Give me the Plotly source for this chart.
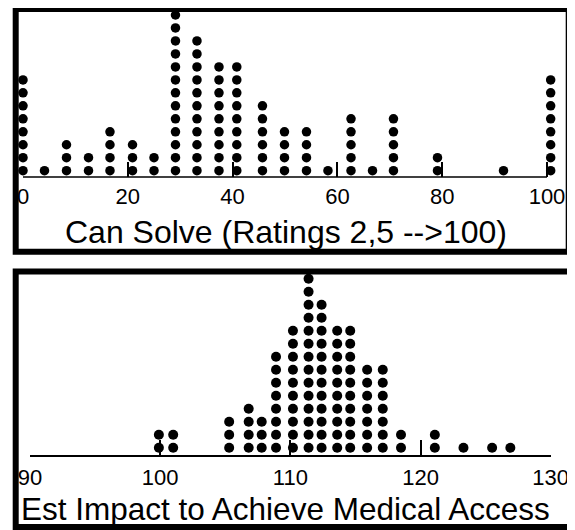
import plotly.graph_objects as go

# ---- data ----
# Top panel: "Can Solve" ratings (dot plot: value -> number of stacked dots)
solve_x = [0, 4.1, 8.3, 12.5, 16.6, 20.9, 25, 29.1, 33.2, 37.4, 40.8, 45.7,
           49.9, 54.1, 58.2, 62.6, 66.7, 70.7, 79.1, 91.7, 100.7]
solve_n = [8, 1, 3, 2, 4, 3, 2, 13, 11, 9, 9, 6, 4, 4, 1, 5, 1, 5, 2, 1, 8]
solve_ticks = [0, 20, 40, 60, 80, 100]
solve_title = "Can Solve (Ratings 2,5 -->100)"

# Bottom panel: "Est Impact" values
impact_x = [99.9, 101.0, 105.3, 106.8, 107.8, 108.9, 110.2, 111.4, 112.4,
            113.6, 114.6, 115.9, 117.1, 118.5, 121.1, 123.3, 125.5, 126.9]
impact_n = [2, 2, 3, 4, 3, 8, 10, 14, 12, 10, 10, 7, 7, 2, 2, 1, 1, 1]
impact_ticks = [90, 100, 110, 120, 130]
impact_title = "Est Impact to Achieve Medical Access"

W, H = 575, 530
OFF = 8  # page body margin: positions below are measured in page pixels
FONT = "Liberation Sans, Arial, sans-serif"


def px(x):
    return (x - OFF) / W


def py(y):
    return 1 - (y - OFF) / H


def stack(xv, nv):
    xs, ys = [], []
    for x, n in zip(xv, nv):
        for k in range(n):
            xs.append(x)
            ys.append(k + 1)
    return xs, ys


sx, sy = stack(solve_x, solve_n)
ix, iy = stack(impact_x, impact_n)

fig = go.Figure()
fig.add_trace(go.Scatter(x=sx, y=sy, mode="markers", xaxis="x", yaxis="y",
                         marker=dict(color="black", size=9.5, line=dict(width=0)),
                         cliponaxis=False, showlegend=False, hoverinfo="x"))
fig.add_trace(go.Scatter(x=ix, y=iy, mode="markers", xaxis="x2", yaxis="y2",
                         marker=dict(color="black", size=10, line=dict(width=0)),
                         cliponaxis=False, showlegend=False, hoverinfo="x"))

axis_common = dict(linecolor="black", linewidth=1.5, automargin=False,
                   ticks="inside", ticklen=15, tickwidth=1.5, tickcolor="black",
                   showgrid=False, zeroline=False, fixedrange=True,
                   tickfont=dict(family=FONT, size=22, color="black"))

# top axis: 0 -> page x 23, 5.24 px per unit
top_x0, top_k = 23, 5.24
top_range = [0, 102]

fig.update_layout(
    width=W, height=H,
    margin=dict(l=0, r=0, t=0, b=0, autoexpand=False),
    paper_bgcolor="white", plot_bgcolor="white",
    xaxis=dict(domain=[px(top_x0), px(top_x0 + top_k * top_range[1])],
               range=top_range, anchor="y", showline=False,
               tickvals=solve_ticks, ticklabelstandoff=4, **axis_common),
    yaxis=dict(domain=[py(177), py(OFF)], range=[0.514, 13.54], visible=False,
               fixedrange=True, automargin=False),
    xaxis2=dict(domain=[px(30), px(550.7)], range=[90, 130], anchor="y2",
                showline=True, tickvals=impact_ticks, ticklabelstandoff=2,
                **axis_common),
    yaxis2=dict(domain=[py(455), py(272)], range=[0.438, 14.52], visible=False,
                fixedrange=True, automargin=False),
    annotations=[
        dict(text=solve_title, x=px(285.5), y=py(231.5), xref="paper", yref="paper",
             xanchor="center", yanchor="middle", showarrow=False,
             font=dict(family=FONT, size=32, color="black")),
        dict(text=impact_title, x=px(285), y=py(508.5), xref="paper", yref="paper",
             xanchor="center", yanchor="middle", showarrow=False,
             font=dict(family=FONT, size=31.5, color="black")),
    ],
    shapes=[
        # baseline of the top scale, from 0 to 100
        dict(type="line", xref="x", yref="y domain",
             x0=solve_ticks[0], x1=solve_ticks[-1], y0=0, y1=0,
             line=dict(color="black", width=1.5)),
        # panel frames
        dict(type="rect", xref="paper", yref="paper",
             x0=px(15.7), x1=px(568.7), y0=py(251.8), y1=py(9),
             line=dict(color="black", width=6), layer="above"),
        dict(type="rect", xref="paper", yref="paper",
             x0=px(15.7), x1=px(570), y0=py(527), y1=py(271.5),
             line=dict(color="black", width=6), layer="above"),
    ],
)

fig.write_html("out.html")
